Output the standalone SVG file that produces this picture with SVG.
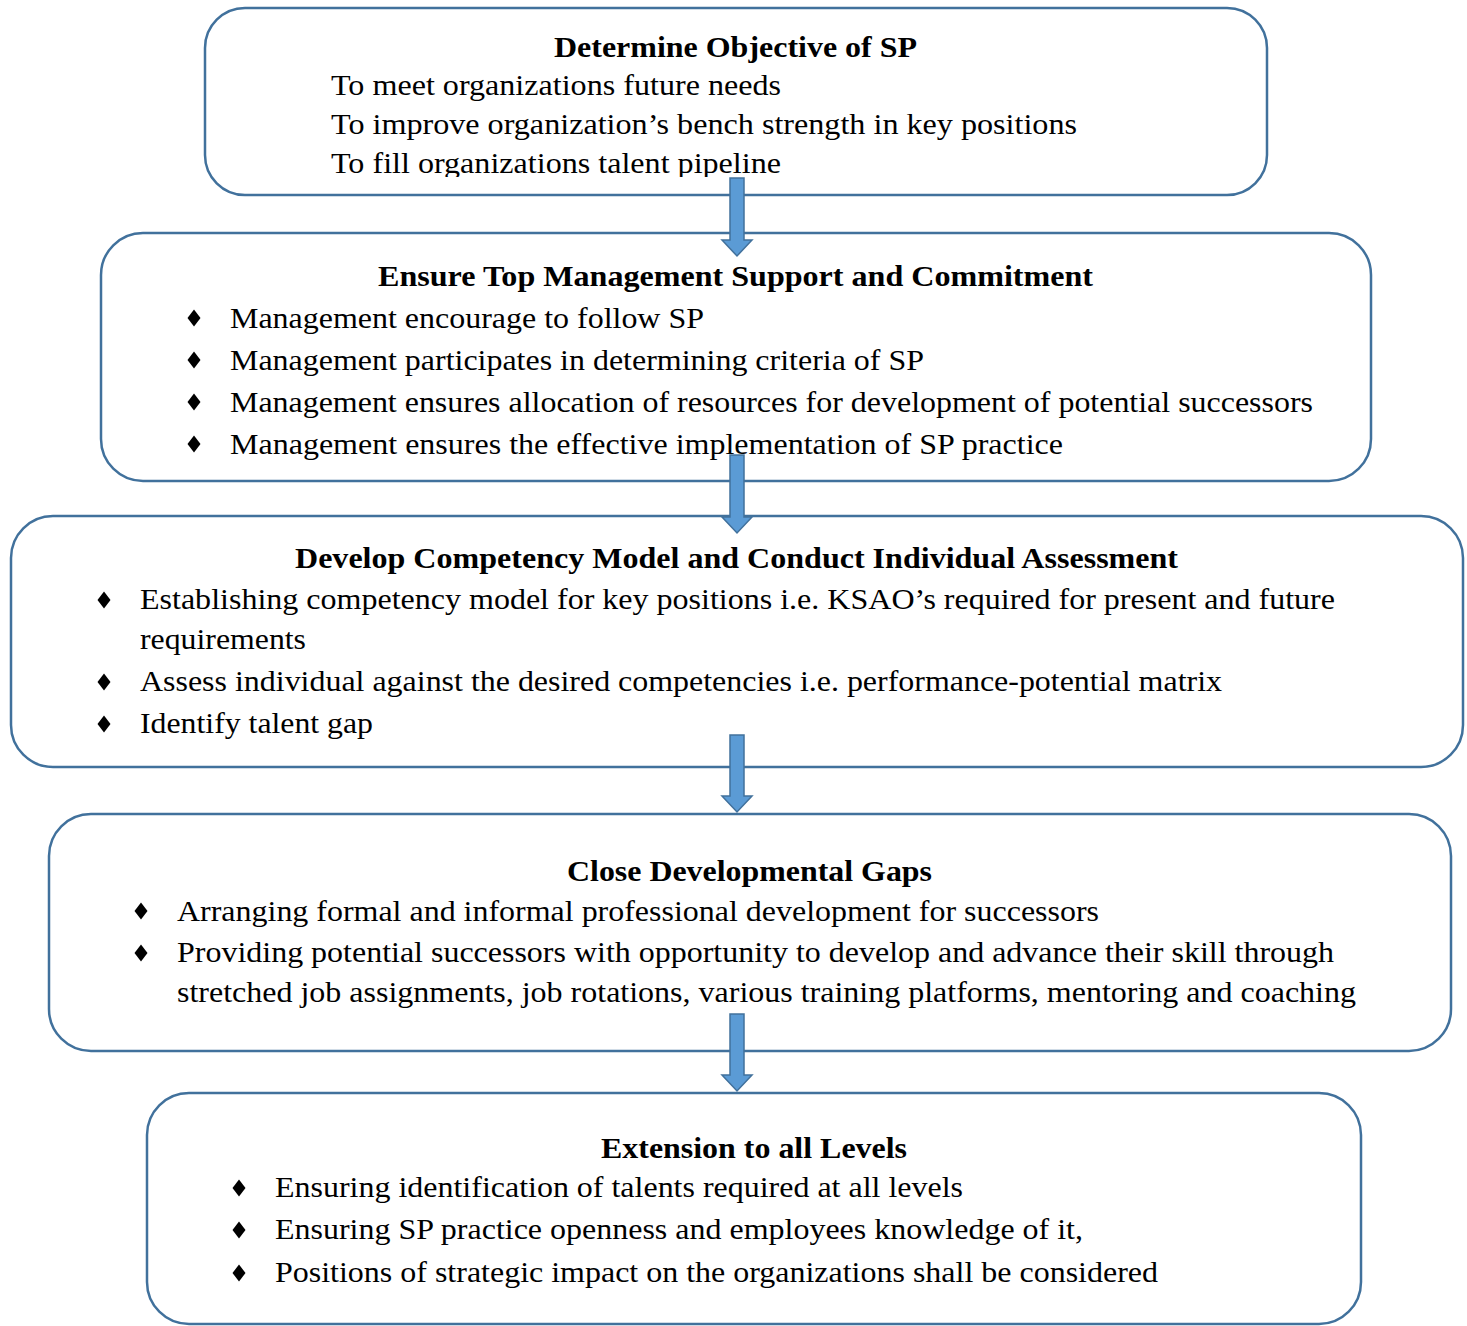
<svg xmlns="http://www.w3.org/2000/svg" width="1467" height="1326" viewBox="0 0 1467 1326">
<style>
.box{fill:#fff;stroke:#41719C;stroke-width:2.5}
.t{font-family:"Liberation Serif","Times New Roman",serif;font-size:29px;fill:#000}
.h{font-weight:bold;text-anchor:middle}
.arr{fill:#5B9BD5;stroke:#41719C;stroke-width:1.5}
.b{fill:#000}
</style>
<defs>
<polygon id="dia" points="0,-8.5 6.5,0 0,8.5 -6.5,0"/>
<clipPath id="c1"><rect x="0" y="0" width="1467" height="177"/></clipPath>
</defs>
<g id="node1">
<rect class="box" x="205" y="8" width="1062" height="187" rx="40"/>
<text class="t h" x="735.5" y="57" textLength="363" lengthAdjust="spacingAndGlyphs">Determine Objective of SP</text>
<text class="t" x="331" y="95" textLength="450" lengthAdjust="spacingAndGlyphs">To meet organizations future needs</text>
<text class="t" x="331" y="134" textLength="746" lengthAdjust="spacingAndGlyphs">To improve organization’s bench strength in key positions</text>
<text class="t" x="331" y="173" textLength="450" lengthAdjust="spacingAndGlyphs" clip-path="url(#c1)">To fill organizations talent pipeline</text>
</g>
<g id="node2">
<rect class="box" x="101" y="233" width="1270" height="248" rx="42"/>
<text class="t h" x="735.5" y="286" textLength="715" lengthAdjust="spacingAndGlyphs">Ensure Top Management Support and Commitment</text>
<use href="#dia" class="b" x="194" y="318"/>
<use href="#dia" class="b" x="194" y="360"/>
<use href="#dia" class="b" x="194" y="402"/>
<use href="#dia" class="b" x="194" y="444"/>
<text class="t" x="230" y="328" textLength="474" lengthAdjust="spacingAndGlyphs">Management encourage to follow SP</text>
<text class="t" x="230" y="370" textLength="694" lengthAdjust="spacingAndGlyphs">Management participates in determining criteria of SP</text>
<text class="t" x="230" y="412" textLength="1083" lengthAdjust="spacingAndGlyphs">Management ensures allocation of resources for development of potential successors</text>
<text class="t" x="230" y="454" textLength="833" lengthAdjust="spacingAndGlyphs">Management ensures the effective implementation of SP practice</text>
</g>
<g id="node3">
<rect class="box" x="11" y="516" width="1452" height="251" rx="42"/>
<text class="t h" x="736.5" y="568" textLength="883" lengthAdjust="spacingAndGlyphs">Develop Competency Model and Conduct Individual Assessment</text>
<use href="#dia" class="b" x="104" y="600"/>
<use href="#dia" class="b" x="104" y="682"/>
<use href="#dia" class="b" x="104" y="724"/>
<text class="t" x="140" y="609" textLength="1195" lengthAdjust="spacingAndGlyphs">Establishing competency model for key positions i.e. KSAO’s required for present and future</text>
<text class="t" x="140" y="649" textLength="166" lengthAdjust="spacingAndGlyphs">requirements</text>
<text class="t" x="140" y="691" textLength="1082" lengthAdjust="spacingAndGlyphs">Assess individual against the desired competencies i.e. performance-potential matrix</text>
<text class="t" x="140" y="733" textLength="233" lengthAdjust="spacingAndGlyphs">Identify talent gap</text>
</g>
<g id="node4">
<rect class="box" x="49" y="814" width="1402" height="237" rx="42"/>
<text class="t h" x="749.5" y="881" textLength="365" lengthAdjust="spacingAndGlyphs">Close Developmental Gaps</text>
<use href="#dia" class="b" x="141" y="911"/>
<use href="#dia" class="b" x="141" y="953"/>
<text class="t" x="177" y="921" textLength="922" lengthAdjust="spacingAndGlyphs">Arranging formal and informal professional development for successors</text>
<text class="t" x="177" y="962" textLength="1157" lengthAdjust="spacingAndGlyphs">Providing potential successors with opportunity to develop and advance their skill through</text>
<text class="t" x="177" y="1002" textLength="1179" lengthAdjust="spacingAndGlyphs">stretched job assignments, job rotations, various training platforms, mentoring and coaching</text>
</g>
<g id="node5">
<rect class="box" x="147" y="1093" width="1214" height="231" rx="42"/>
<text class="t h" x="754" y="1158" textLength="306" lengthAdjust="spacingAndGlyphs">Extension to all Levels</text>
<use href="#dia" class="b" x="239" y="1188"/>
<use href="#dia" class="b" x="239" y="1230"/>
<use href="#dia" class="b" x="239" y="1273"/>
<text class="t" x="275" y="1197" textLength="688" lengthAdjust="spacingAndGlyphs">Ensuring identification of talents required at all levels</text>
<text class="t" x="275" y="1239" textLength="808" lengthAdjust="spacingAndGlyphs">Ensuring SP practice openness and employees knowledge of it,</text>
<text class="t" x="275" y="1282" textLength="883" lengthAdjust="spacingAndGlyphs">Positions of strategic impact on the organizations shall be considered</text>
</g>
<g id="connectors">
<polygon class="arr" points="730,178 744,178 744,240 752,240 737,256 722,240 730,240"/>
<polygon class="arr" points="730,455 744,455 744,517 752,517 737,533 722,517 730,517"/>
<polygon class="arr" points="730,735 744,735 744,796 752,796 737,812 722,796 730,796"/>
<polygon class="arr" points="730,1014 744,1014 744,1075 752,1075 737,1091 722,1075 730,1075"/>
</g>
</svg>
